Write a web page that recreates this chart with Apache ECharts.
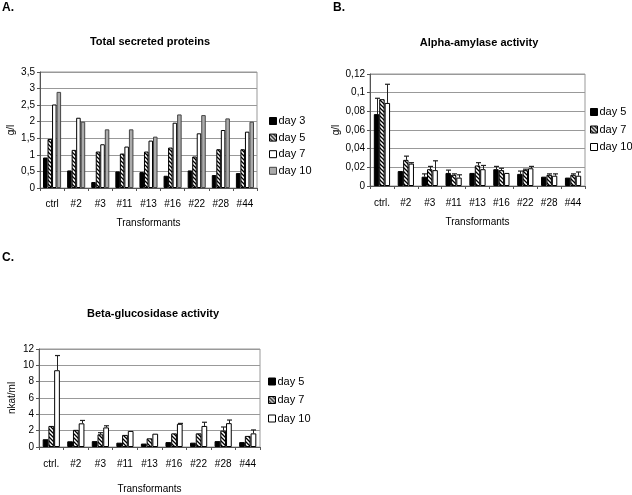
<!DOCTYPE html>
<html><head><meta charset="utf-8">
<script src="https://cdn.jsdelivr.net/npm/echarts@6/dist/echarts.min.js"></script>
<style>html,body{margin:0;padding:0;background:#fff}#c{width:632px;height:495px}</style>
</head><body><div id="c"></div>
<script>
const catsA = ['ctrl','#2','#3','#11','#13','#16','#22','#28','#44'];
const catsBC = ['ctrl.','#2','#3','#11','#13','#16','#22','#28','#44'];
const yTicksA = {min:0, max:3.5, interval:0.5};
const yTicksB = {min:0, max:0.12, interval:0.02};
const yTicksC = {min:0, max:12, interval:2};

// Panel A: total secreted proteins (g/l)
const aDay3  = [0.92, 0.53, 0.18, 0.50, 0.48, 0.37, 0.53, 0.39, 0.45];
const aDay5  = [1.48, 1.15, 1.10, 1.04, 1.10, 1.22, 0.95, 1.17, 1.17];
const aDay7  = [2.52, 2.12, 1.32, 1.25, 1.43, 1.97, 1.65, 1.75, 1.70];
const aDay10 = [2.90, 2.00, 1.77, 1.77, 1.55, 2.22, 2.20, 2.10, 2.00];

// Panel B: alpha-amylase activity (g/l)
const bDay5  = [0.077, 0.016, 0.010, 0.014, 0.014, 0.018, 0.013, 0.010, 0.009];
const bDay7  = [0.093, 0.028, 0.018, 0.012, 0.022, 0.017, 0.017, 0.012, 0.012];
const bDay10 = [0.089, 0.024, 0.017, 0.009, 0.018, 0.014, 0.019, 0.011, 0.011];
const bErr5  = [0.017, 0, 0.003, 0.003, 0, 0.003, 0.003, 0, 0];
const bErr7  = [0, 0.004, 0.003, 0.001, 0.003, 0.002, 0.001, 0.001, 0.001];
const bErr10 = [0.020, 0.001, 0.010, 0.003, 0.004, 0, 0.002, 0.002, 0.004];

// Panel C: beta-glucosidase activity (nkat/ml)
const cDay5  = [0.95, 0.70, 0.72, 0.53, 0.42, 0.60, 0.53, 0.72, 0.60];
const cDay7  = [2.58, 2.10, 1.55, 1.48, 1.06, 1.67, 1.67, 2.00, 1.36];
const cDay10 = [9.40, 2.90, 2.40, 1.97, 1.63, 2.84, 2.58, 2.92, 1.67];
const cErr5  = [0, 0, 0, 0, 0, 0, 0, 0, 0];
const cErr7  = [0, 0, 0.20, 0, 0, 0, 0, 0.45, 0];
const cErr10 = [1.80, 0.35, 0.20, 0, 0, 0.05, 0.45, 0.38, 0.42];

const FONT = "'Liberation Sans',Arial,sans-serif";

function makeHatch(){
  const cv = document.createElement('canvas');
  cv.width = 4; cv.height = 4;
  const g = cv.getContext('2d');
  g.fillStyle = '#fff'; g.fillRect(0,0,4,4);
  g.strokeStyle = '#000'; g.lineWidth = 1.3;
  g.beginPath();
  g.moveTo(-1,-1); g.lineTo(5,5);
  g.moveTo(-1,3); g.lineTo(1,5);
  g.moveTo(3,-1); g.lineTo(5,1);
  g.stroke();
  return {image: cv, repeat: 'repeat'};
}
const hatch = makeHatch();
const stBlack = {color:'#000', borderColor:'#000', borderWidth:1};
const stHatch = {color:hatch, borderColor:'#000', borderWidth:1};
const stWhite = {color:'#fff', borderColor:'#000', borderWidth:1};
const stGray  = {color:'#ababab', borderColor:'#444', borderWidth:1};

const comma = v => String(+v.toFixed(2)).replace('.', ',');

function xAxis(gi, cats, gap, margin){
  return {type:'category', gridIndex:gi, data:cats,
    name:'Transformants', nameLocation:'middle', nameGap:gap,
    nameTextStyle:{fontFamily:FONT, fontSize:10, color:'#000'},
    axisLine:{lineStyle:{color:'#555'}},
    axisTick:{show:true, length:3, lineStyle:{color:'#555'}},
    axisLabel:{fontFamily:FONT, fontSize:10, color:'#000', margin:margin, interval:0},
    splitLine:{show:false}};
}
function yAxis(gi, t, name, gap){
  return {type:'value', gridIndex:gi, min:t.min, max:t.max, interval:t.interval,
    name:name, nameLocation:'middle', nameGap:gap, nameRotate:90,
    nameTextStyle:{fontFamily:FONT, fontSize:10, color:'#000'},
    axisLine:{show:true, lineStyle:{color:'#555'}},
    axisTick:{show:true, length:3, lineStyle:{color:'#555'}},
    axisLabel:{fontFamily:FONT, fontSize:10, color:'#000', margin:5, formatter:comma},
    splitLine:{show:true, lineStyle:{color:'#999', width:1}}};
}
function bar(name, gi, data, st, gap){
  return {type:'bar', name:name, xAxisIndex:gi, yAxisIndex:gi, data:data,
    itemStyle:st, barGap:'0%', barCategoryGap:gap, silent:true, animation:false};
}
function errs(gi, vals, e, i, n, gapFrac){
  const d = [];
  vals.forEach((v,k)=>{ if (e[k] > 0) d.push([k, v, e[k]]); });
  return {type:'custom', name:'err'+gi+'_'+i, xAxisIndex:gi, yAxisIndex:gi,
    encode:{x:0, y:1}, data:d, z:5, silent:true, animation:false,
    renderItem:function(params, api){
      const band = api.size([1,0])[0];
      const tw = band*(1-gapFrac);
      const bw = tw/n;
      const c = api.coord([api.value(0), api.value(1)]);
      const t = api.coord([api.value(0), api.value(1)+api.value(2)]);
      const x = Math.round(c[0] - tw/2 + (i+0.5)*bw) + 0.5;
      return {type:'group', children:[
        {type:'line', shape:{x1:x, y1:c[1], x2:x, y2:t[1]}, style:{stroke:'#222', lineWidth:1}},
        {type:'line', shape:{x1:x-2.5, y1:t[1], x2:x+2.5, y2:t[1]}, style:{stroke:'#222', lineWidth:1.2}}
      ]};
    }};
}
function legend(left, top, items, gap){
  return {orient:'vertical', left:left, top:top, itemWidth:7, itemHeight:7, itemGap:gap,
    icon:'rect', selectedMode:false, padding:0,
    textStyle:{fontFamily:FONT, fontSize:11, color:'#000', overflow:'none', width:60, padding:[0,0,0,-3]},
    data:items};
}
function ttl(text, left, top, size, align){
  return {text:text, left:left, top:top, padding:0, textAlign:align,
    textStyle:{fontFamily:FONT, fontSize:size, fontWeight:'bold', color:'#000'}};
}

const option = {
  animation:false,
  backgroundColor:'#fff',
  title:[
    ttl('A.', 2, 2, 12, 'left'),
    ttl('B.', 333, 2, 12, 'left'),
    ttl('C.', 2, 252, 12, 'left'),
    ttl('Total secreted proteins', 150, 36, 11, 'center'),
    ttl('Alpha-amylase activity', 479, 37, 11, 'center'),
    ttl('Beta-glucosidase activity', 153, 308, 11, 'center')
  ],
  grid:[
    {left:40, top:72, width:217, height:116, show:true, borderColor:'#999', borderWidth:1, backgroundColor:'#fff'},
    {left:370, top:74, width:215, height:112, show:true, borderColor:'#999', borderWidth:1, backgroundColor:'#fff'},
    {left:39, top:349, width:221, height:106, show:true, borderColor:'#999', borderWidth:1, backgroundColor:'#fff'}
  ],
  xAxis:[xAxis(0, catsA, 30, 11), xAxis(1, catsBC, 31, 12), xAxis(2, catsBC, 37, 12)],
  yAxis:[yAxis(0, yTicksA, 'g/l', 24), yAxis(1, yTicksB, 'g/l', 25), yAxis(2, yTicksC, 'nkat/ml', 22)],
  legend:[
    legend(269, 115.5, [
      {name:'day 3', itemStyle:stBlack},
      {name:'day 5', itemStyle:stHatch},
      {name:'day 7', itemStyle:stWhite},
      {name:'day 10', itemStyle:stGray}], 5.6),
    legend(590, 106.5, [
      {name:'day 5', itemStyle:stBlack},
      {name:'day 7', itemStyle:stHatch},
      {name:'day 10', itemStyle:stWhite}], 6.5),
    legend(268, 376, [
      {name:'day 5', itemStyle:stBlack},
      {name:'day 7', itemStyle:stHatch},
      {name:'day 10', itemStyle:stWhite}], 7.5)
  ],
  series:[
    bar('day 3', 0, aDay3, stBlack, '25%'),
    bar('day 5', 0, aDay5, stHatch, '25%'),
    bar('day 7', 0, aDay7, stWhite, '25%'),
    bar('day 10', 0, aDay10, stGray, '25%'),
    bar('day 5', 1, bDay5, stBlack, '32%'),
    bar('day 7', 1, bDay7, stHatch, '32%'),
    bar('day 10', 1, bDay10, stWhite, '32%'),
    errs(1, bDay5, bErr5, 0, 3, 0.32),
    errs(1, bDay7, bErr7, 1, 3, 0.32),
    errs(1, bDay10, bErr10, 2, 3, 0.32),
    bar('day 5', 2, cDay5, stBlack, '30%'),
    bar('day 7', 2, cDay7, stHatch, '30%'),
    bar('day 10', 2, cDay10, stWhite, '30%'),
    errs(2, cDay5, cErr5, 0, 3, 0.30),
    errs(2, cDay7, cErr7, 1, 3, 0.30),
    errs(2, cDay10, cErr10, 2, 3, 0.30)
  ]
};
const chart = echarts.init(document.getElementById('c'), null, {renderer:'canvas'});
chart.setOption(option);
</script></body></html>
